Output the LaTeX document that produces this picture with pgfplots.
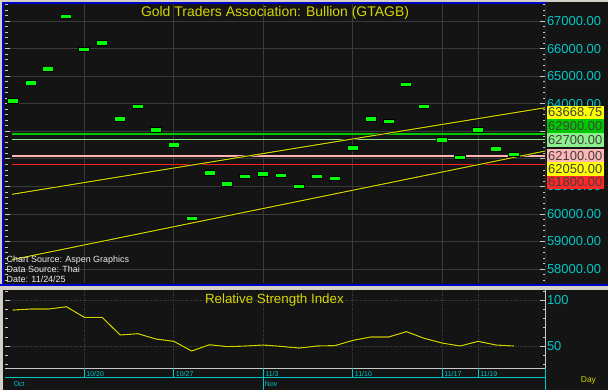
\documentclass[border=0pt]{standalone}
\usepackage{pgfplots}
\pgfplotsset{compat=1.18}
\usepackage{pgfplotstable}
\usepackage{fontspec}
\setmainfont{Liberation Sans}
\definecolor{bgdark}{RGB}{20,20,20}
\definecolor{framegray}{RGB}{212,208,200}
\definecolor{frameblue}{RGB}{0,0,200}
\definecolor{gridcol}{RGB}{58,58,58}
\definecolor{cyancol}{RGB}{0,200,200}
\definecolor{titleyellow}{RGB}{215,215,0}
\definecolor{trendyellow}{RGB}{210,210,0}
\definecolor{bargreen}{RGB}{0,255,0}
\definecolor{lvlgreen}{RGB}{0,200,0}
\definecolor{lvllightgreen}{RGB}{140,230,140}
\definecolor{lvlpink}{RGB}{255,180,180}
\definecolor{lvlred}{RGB}{255,30,30}
\definecolor{tickgray}{RGB}{200,200,200}
\definecolor{boxyellow}{RGB}{255,255,0}
\definecolor{boxgreen}{RGB}{0,200,0}
\definecolor{boxlightgreen}{RGB}{140,240,140}
\definecolor{boxpink}{RGB}{255,182,182}
\definecolor{boxred}{RGB}{255,40,40}

\pgfplotstableread{
i v
0 64100
1 64760
2 65250
3 67170
4 65960
5 66200
6 63450
7 63890
8 63050
9 62490
10 59840
11 61490
12 61090
13 61350
14 61450
15 61390
16 60990
17 61350
18 61280
19 62390
20 63450
21 63360
22 64690
23 63890
24 62690
25 62050
26 63050
27 62360
28 62160
}\pricedata

\pgfplotstableread{
i r
0 89.1
1 90.2
2 90.2
3 92.7
4 81.2
5 81.2
6 62.0
7 63.4
8 57.6
9 55.1
10 44.6
11 51.4
12 49.3
13 50.0
14 51.1
15 49.6
16 47.8
17 50.0
18 50.4
19 56.1
20 59.8
21 59.8
22 65.6
23 58.3
24 53.2
25 50.0
26 55.1
27 51.1
28 50.0
}\rsidata

\begin{document}
\begin{tikzpicture}
\begin{scope}[x=1bp,y=1bp]
\useasboundingbox (0,0) rectangle (608,390);
\fill[framegray] (0,0) rectangle (608,390);
\fill[bgdark] (2,105) rectangle (608,388);
\fill[bgdark] (3,0) rectangle (608,100);
\draw[frameblue, line width=2bp] (0,105.5) -- (608,105.5);
\draw[frameblue, line width=2bp] (3,105) -- (3,387) -- (545.5,387);
\end{scope}

% ---------------- main panel ----------------
\begin{axis}[
  at={(5bp,107bp)}, anchor=south west, scale only axis,
  width=540bp, height=279bp,
  xmin=-0.43, xmax=29.74, ymin=57492, ymax=67617,
  axis line style={draw=none},
  xtick={4,9,14,19,24,26}, xticklabels={},
  xtick style={draw=none},
  ytick={57000,58000,...,68000},
  scaled y ticks=false,
  yticklabels={57000.00,58000.00,59000.00,60000.00,61000.00,{},{},64000.00,65000.00,66000.00,67000.00,68000.00},
  minor y tick num=4,
  yticklabel pos=right,
  tick align=inside,
  major tick length=5bp, minor tick length=2.5bp,
  ytick style={color=tickgray, line width=0.6bp},
  yticklabel style={text=cyancol, font=\fontsize{13}{13}\selectfont, anchor=west, xshift=-1.5bp},
  xmajorgrids, ymajorgrids,
  grid style={color=gridcol, line width=0.6bp},
]
\draw[tickgray, line width=0.8bp] (rel axis cs:1,0) -- (rel axis cs:1,1);
\addplot[lvlgreen, line width=1.3bp] coordinates {(-0.04,62900) (29.74,62900)};
\addplot[lvllightgreen, line width=1bp] coordinates {(-0.04,62700) (29.74,62700)};
\addplot[lvlpink, line width=1.3bp] coordinates {(-0.04,62100) (29.74,62100)};
\addplot[lvlred, line width=1.1bp] coordinates {(-0.04,61800) (29.74,61800)};
\addplot[black, line width=2.2bp] coordinates {(-0.04,60711) (28,63668.75) (29.74,63852)};
\addplot[trendyellow, line width=1.1bp] coordinates {(-0.04,60711) (28,63668.75) (29.74,63852)};
\addplot[black, line width=2.2bp] coordinates {(-0.04,58338) (28,62050) (29.74,62280)};
\addplot[trendyellow, line width=1.1bp] coordinates {(-0.04,58338) (28,62050) (29.74,62280)};
\addplot[only marks, mark=-, mark size=6bp, mark options={draw=black, line width=5.4bp}] table[x=i, y=v] {\pricedata};
\addplot[only marks, mark=-, mark size=5bp, mark options={draw=bargreen, line width=3.6bp}] table[x=i, y=v] {\pricedata};
\end{axis}

% ---------------- RSI panel ----------------
\begin{axis}[
  at={(5bp,22bp)}, anchor=south west, scale only axis,
  width=540bp, height=78bp,
  xmin=-0.43, xmax=29.74, ymin=26.1, ymax=110.9,
  axis line style={draw=none},
  clip=false,
  xtick={4,9,14,19,24,26}, xticklabels={},
  xtick style={draw=none},
  ytick={0,50,100,150},
  minor y tick num=4,
  yticklabel pos=right,
  tick align=inside,
  major tick length=5bp, minor tick length=2.5bp,
  ytick style={color=tickgray, line width=0.6bp},
  yticklabel style={text=cyancol, font=\fontsize{13}{13}\selectfont, anchor=west, xshift=-1.5bp,
    /pgf/number format/fixed, /pgf/number format/precision=0, /pgf/number format/assume math mode=true},
  xmajorgrids, ymajorgrids,
  grid style={color=gridcol, line width=0.6bp, dash pattern=on 1.5bp off 1bp},
]
\draw[tickgray, line width=0.8bp] (rel axis cs:1,0) -- (rel axis cs:1,1);
\draw[tickgray, line width=0.9bp] (rel axis cs:0,0) -- (rel axis cs:1,0);
\addplot[black, line width=2bp] table[x=i, y=r] {\rsidata};
\addplot[trendyellow, line width=1.1bp] table[x=i, y=r] {\rsidata};
\pgfplotsinvokeforeach{4,9,14,19,24,26}{
  \draw[cyancol, line width=0.8bp] (axis cs:#1,26.1) -- ([yshift=-9.8bp]axis cs:#1,26.1);
}
\draw[cyancol, line width=0.8bp] ([yshift=-9.8bp]rel axis cs:0,0) -- ([yshift=-9.8bp]rel axis cs:1,0);
\draw[cyancol, line width=0.8bp] (rel axis cs:1,0) -- ([yshift=-22bp]rel axis cs:1,0);
\draw[cyancol, line width=0.8bp] ([yshift=-9.8bp]axis cs:14,26.1) -- ([yshift=-22bp]axis cs:14,26.1);
\node[anchor=base west, text=cyancol, font=\fontsize{7}{7}\selectfont, inner sep=0] at ([xshift=2bp, yshift=-8.7bp]axis cs:4,26.1) {10/20};
\node[anchor=base west, text=cyancol, font=\fontsize{7}{7}\selectfont, inner sep=0] at ([xshift=2bp, yshift=-8.7bp]axis cs:9,26.1) {10/27};
\node[anchor=base west, text=cyancol, font=\fontsize{7}{7}\selectfont, inner sep=0] at ([xshift=2bp, yshift=-8.7bp]axis cs:14,26.1) {11/3};
\node[anchor=base west, text=cyancol, font=\fontsize{7}{7}\selectfont, inner sep=0] at ([xshift=2bp, yshift=-8.7bp]axis cs:19,26.1) {11/10};
\node[anchor=base west, text=cyancol, font=\fontsize{7}{7}\selectfont, inner sep=0] at ([xshift=2bp, yshift=-8.7bp]axis cs:24,26.1) {11/17};
\node[anchor=base west, text=cyancol, font=\fontsize{7}{7}\selectfont, inner sep=0] at ([xshift=2bp, yshift=-8.7bp]axis cs:26,26.1) {11/19};
\node[anchor=base west, text=cyancol, font=\fontsize{7}{7}\selectfont, inner sep=0] at ([xshift=1.5bp, yshift=-18.6bp]axis cs:14,26.1) {Nov};
\end{axis}

\begin{scope}[x=1bp,y=1bp]
% titles and notes
\node[anchor=base, text=titleyellow, font=\fontsize{14}{14}\selectfont, inner sep=0] at (275,374) {Gold Traders Association: Bullion (GTAGB)};
\node[anchor=base west, text=white!85!gray, font=\fontsize{9}{9}\selectfont, inner sep=0] at (6.5,127.5) {Chart Source: Aspen Graphics};
\node[anchor=base west, text=white!85!gray, font=\fontsize{9}{9}\selectfont, inner sep=0] at (6.5,117.3) {Data Source: Thai};
\node[anchor=base west, text=white!85!gray, font=\fontsize{9}{9}\selectfont, inner sep=0] at (6.5,107.5) {Date: 11/24/25};

% value boxes
\tikzset{vbox/.style={anchor=west, minimum width=57bp, minimum height=13.5bp, inner sep=1bp, text=black!75, font=\fontsize{13}{13}\selectfont, align=left, text width=55bp}}
\node[vbox, fill=boxyellow] at (547,277.5) {63668.75};
\node[vbox, fill=boxgreen] at (547,263.8) {62900.00};
\node[vbox, fill=boxlightgreen] at (547,250.1) {62700.00};
\node[vbox, fill=boxpink] at (547,234.3) {62100.00};
\node[vbox, fill=boxyellow] at (547,221.0) {62050.00};
\node[vbox, fill=boxred] at (547,207.7) {61800.00};

\node[anchor=base west, text=cyancol, font=\fontsize{7}{7}\selectfont, inner sep=0] at (13.6,3.4) {Oct};
\node[anchor=base, text=titleyellow, font=\fontsize{13.4}{13.4}\selectfont, inner sep=0] at (274.4,86.5) {Relative Strength Index};
\node[anchor=base west, text=trendyellow, font=\fontsize{8.5}{8.5}\selectfont, inner sep=0] at (580.7,8) {Day};
\end{scope}
\end{tikzpicture}
\end{document}
